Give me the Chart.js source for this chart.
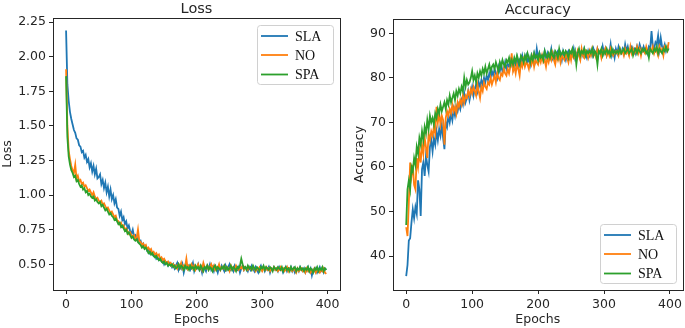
<!DOCTYPE html>
<html>
<head>
<meta charset="utf-8">
<script src="https://cdn.jsdelivr.net/npm/chart.js@4.4.1/dist/chart.umd.min.js"></script>
<style>
  html, body { margin: 0; padding: 0; background: #fff; }
  .panel { position: absolute; top: 0; }
  #lossWrap { left: 0; width: 345px; height: 328px; }
  #accWrap { left: 345px; width: 340px; height: 328px; }
</style>
</head>
<body>
<div class="panel" id="lossWrap"><canvas id="lossChart" width="345" height="328"></canvas></div>
<div class="panel" id="accWrap"><canvas id="accChart" width="340" height="328"></canvas></div>
<script>
// epochs sampled every 2
const epochs = Array.from({ length: 200 }, (_, i) => i * 2);
const seriesNames = ['SLA', 'NO', 'SPA'];
const seriesColors = ['#1f77b4', '#ff7f0e', '#2ca02c'];
const epochTicks = [0, 100, 200, 300, 400];
const lossTicks = [0.50, 0.75, 1.00, 1.25, 1.50, 1.75, 2.00, 2.25];
const accTicks = [40, 50, 60, 70, 80, 90];

const lossSLA = [
  2.19, 1.80, 1.68, 1.60, 1.55, 1.51, 1.47, 1.45, 1.41, 1.40, 1.36, 1.35, 1.31, 1.32, 1.27, 1.29, 1.24, 1.26, 1.20, 1.23,
  1.17, 1.21, 1.15, 1.19, 1.12, 1.13, 1.15, 1.08, 1.11, 1.05, 1.09, 1.02, 1.06, 0.99, 1.04, 0.97, 1.00, 0.94, 0.97, 0.91,
  0.90, 0.85, 0.88, 0.82, 0.84, 0.79, 0.81, 0.76, 0.78, 0.74, 0.72, 0.75, 0.70, 0.71, 0.68, 0.69, 0.66, 0.67, 0.64, 0.65,
  0.62, 0.63, 0.60, 0.61, 0.58, 0.59, 0.57, 0.56, 0.57, 0.54, 0.55, 0.53, 0.54, 0.52, 0.53, 0.50, 0.52, 0.51, 0.49, 0.51,
  0.50, 0.48, 0.50, 0.47, 0.49, 0.51, 0.46, 0.49, 0.47, 0.50, 0.44, 0.48, 0.50, 0.47, 0.49, 0.46, 0.48, 0.51, 0.45, 0.48,
  0.47, 0.50, 0.46, 0.48, 0.44, 0.49, 0.47, 0.45, 0.49, 0.47, 0.50, 0.46, 0.48, 0.45, 0.49, 0.47, 0.44, 0.48, 0.46, 0.49,
  0.47, 0.45, 0.49, 0.46, 0.48, 0.50, 0.46, 0.47, 0.45, 0.49, 0.47, 0.46, 0.48, 0.44, 0.47, 0.49, 0.46, 0.48, 0.47, 0.45,
  0.48, 0.46, 0.49, 0.47, 0.45, 0.48, 0.46, 0.44, 0.47, 0.49, 0.46, 0.48, 0.45, 0.47, 0.46, 0.48, 0.44, 0.47, 0.46, 0.48,
  0.46, 0.47, 0.45, 0.48, 0.46, 0.47, 0.44, 0.46, 0.48, 0.45, 0.47, 0.46, 0.48, 0.45, 0.47, 0.44, 0.46, 0.47, 0.45, 0.48,
  0.46, 0.45, 0.47, 0.44, 0.46, 0.48, 0.45, 0.47, 0.42, 0.46, 0.45, 0.47, 0.44, 0.46, 0.48, 0.45, 0.46, 0.44, 0.47, 0.46
];
const lossNO = [
  1.91, 1.50, 1.32, 1.26, 1.21, 1.18, 1.16, 1.22, 1.12, 1.14, 1.10, 1.11, 1.08, 1.09, 1.06, 1.07, 1.05, 1.03, 1.04, 1.02,
  1.00, 1.02, 0.99, 0.97, 0.98, 0.96, 0.95, 0.96, 0.93, 0.94, 0.92, 0.90, 0.91, 0.89, 0.87, 0.88, 0.86, 0.84, 0.85, 0.82,
  0.81, 0.79, 0.80, 0.77, 0.78, 0.75, 0.76, 0.74, 0.72, 0.73, 0.71, 0.70, 0.71, 0.68, 0.69, 0.75, 0.67, 0.66, 0.64, 0.65,
  0.63, 0.64, 0.61, 0.62, 0.60, 0.61, 0.58, 0.59, 0.57, 0.58, 0.56, 0.57, 0.54, 0.55, 0.53, 0.54, 0.52, 0.51, 0.52, 0.50,
  0.51, 0.49, 0.50, 0.48, 0.49, 0.47, 0.50, 0.48, 0.51, 0.47, 0.49, 0.48, 0.54, 0.47, 0.49, 0.48, 0.50, 0.47, 0.49, 0.46,
  0.48, 0.50, 0.47, 0.49, 0.46, 0.51, 0.48, 0.47, 0.49, 0.46, 0.48, 0.50, 0.47, 0.49, 0.46, 0.48, 0.47, 0.50, 0.46, 0.48,
  0.47, 0.49, 0.46, 0.48, 0.47, 0.45, 0.49, 0.47, 0.48, 0.46, 0.49, 0.47, 0.46, 0.48, 0.47, 0.49, 0.46, 0.48, 0.47, 0.46,
  0.48, 0.47, 0.46, 0.48, 0.47, 0.45, 0.47, 0.46, 0.48, 0.47, 0.45, 0.47, 0.46, 0.48, 0.46, 0.47, 0.45, 0.47, 0.46, 0.48,
  0.46, 0.47, 0.45, 0.46, 0.48, 0.46, 0.47, 0.45, 0.46, 0.48, 0.45, 0.47, 0.46, 0.45, 0.47, 0.46, 0.44, 0.47, 0.45, 0.46,
  0.47, 0.45, 0.46, 0.44, 0.47, 0.45, 0.46, 0.44, 0.46, 0.45, 0.47, 0.44, 0.46, 0.45, 0.44, 0.46, 0.45, 0.47, 0.44, 0.43
];
const lossSPA = [
  1.86, 1.42, 1.28, 1.22, 1.18, 1.16, 1.13, 1.14, 1.10, 1.11, 1.08, 1.06, 1.07, 1.04, 1.05, 1.02, 1.03, 1.00, 1.01, 0.99,
  0.98, 0.99, 0.96, 0.97, 0.95, 0.94, 0.95, 0.92, 0.93, 0.91, 0.89, 0.90, 0.88, 0.86, 0.87, 0.85, 0.84, 0.82, 0.83, 0.81,
  0.79, 0.80, 0.77, 0.78, 0.76, 0.74, 0.75, 0.72, 0.73, 0.71, 0.69, 0.70, 0.68, 0.67, 0.68, 0.66, 0.65, 0.64, 0.62, 0.63,
  0.61, 0.62, 0.60, 0.58, 0.59, 0.57, 0.58, 0.56, 0.55, 0.56, 0.54, 0.53, 0.54, 0.52, 0.51, 0.52, 0.50, 0.51, 0.49, 0.50,
  0.49, 0.50, 0.48, 0.49, 0.47, 0.48, 0.50, 0.47, 0.49, 0.48, 0.46, 0.49, 0.47, 0.48, 0.46, 0.49, 0.47, 0.48, 0.46, 0.49,
  0.47, 0.48, 0.46, 0.49, 0.47, 0.45, 0.48, 0.47, 0.49, 0.46, 0.48, 0.47, 0.45, 0.48, 0.49, 0.46, 0.48, 0.47, 0.46, 0.48,
  0.47, 0.49, 0.46, 0.48, 0.46, 0.47, 0.49, 0.46, 0.48, 0.47, 0.45, 0.48, 0.47, 0.49, 0.54, 0.50, 0.47, 0.48, 0.46, 0.49,
  0.47, 0.48, 0.46, 0.49, 0.47, 0.46, 0.48, 0.47, 0.45, 0.48, 0.47, 0.49, 0.46, 0.48, 0.47, 0.46, 0.48, 0.47, 0.45, 0.48,
  0.47, 0.46, 0.48, 0.47, 0.46, 0.48, 0.45, 0.47, 0.48, 0.46, 0.47, 0.45, 0.48, 0.46, 0.47, 0.48, 0.45, 0.47, 0.46, 0.48,
  0.46, 0.47, 0.45, 0.47, 0.46, 0.48, 0.45, 0.47, 0.46, 0.44, 0.47, 0.46, 0.48, 0.45, 0.47, 0.46, 0.48, 0.45, 0.47, 0.46
];

const accSLA = [
  35.5, 38.0, 43.5, 44.0, 47.5, 50.5, 48.5, 51.0, 49.5, 57.0, 55.0, 49.0, 59.5, 61.0, 58.0, 62.5, 60.5, 59.0, 64.5, 66.0,
  63.5, 66.5, 65.0, 68.0, 66.0, 68.5, 67.0, 69.5, 66.5, 64.0, 70.0, 69.0, 71.5, 70.0, 72.0, 70.5, 73.0, 71.5, 73.5, 72.5,
  74.0, 73.0, 75.0, 74.0, 76.5, 74.5, 75.5, 77.0, 75.0, 76.5, 78.0, 76.0, 77.5, 78.5, 77.0, 79.0, 78.0, 79.5, 78.5, 80.0,
  79.0, 80.5, 79.5, 81.0, 80.0, 81.5, 80.5, 82.0, 81.0, 80.0, 82.5, 81.5, 83.0, 81.5, 82.0, 83.5, 82.0, 83.0, 82.5, 84.0,
  83.0, 82.0, 84.0, 83.0, 84.5, 82.5, 84.0, 83.5, 85.0, 83.5, 84.0, 85.0, 83.5, 84.5, 83.0, 85.0, 84.0, 85.5, 84.0, 86.5,
  84.5, 85.5, 84.0, 85.0, 84.5, 86.0, 84.5, 85.5, 84.0, 85.0, 86.5, 84.5, 85.5, 84.0, 85.5, 86.0, 84.5, 85.5, 84.0, 86.0,
  85.0, 84.0, 85.5, 86.0, 84.5, 85.5, 85.0, 86.5, 84.5, 85.5, 85.0, 86.0, 84.5, 86.0, 85.0, 86.5, 85.5, 84.5, 86.0, 85.0,
  86.0, 85.0, 86.5, 85.5, 85.0, 86.5, 85.5, 86.0, 85.0, 87.0, 85.5, 86.5, 85.0, 86.0, 85.5, 87.5, 85.0, 86.0, 84.5, 86.5,
  85.5, 87.0, 86.0, 85.5, 86.5, 85.5, 87.5, 86.0, 87.0, 85.5, 86.5, 87.0, 86.0, 86.5, 85.5, 87.0, 86.0, 87.5, 86.5, 86.0,
  87.0, 86.0, 86.5, 85.5, 87.0, 86.5, 90.5, 87.0, 86.5, 88.0, 87.5, 89.5, 86.5, 89.0, 87.0, 86.5, 87.5, 86.0, 87.0, 86.5
];
const accNO = [
  46.5, 44.5, 52.0, 61.0, 58.0, 60.5, 56.0, 55.0, 62.0, 60.0, 63.5, 61.0, 65.0, 63.0, 66.5, 64.5, 62.0, 67.5, 66.0, 68.0,
  67.0, 69.0, 67.5, 73.5, 70.0, 72.0, 69.5, 71.5, 70.5, 65.0, 71.0, 72.5, 71.5, 73.0, 72.0, 74.0, 72.5, 73.5, 72.0, 74.5,
  73.5, 75.0, 74.0, 76.0, 74.5, 76.0, 75.5, 77.0, 76.0, 77.5, 76.5, 78.0, 77.0, 76.0, 78.5, 77.0, 75.5, 78.0, 77.0, 79.0,
  78.0, 77.5, 79.0, 78.5, 80.0, 78.5, 79.5, 80.5, 79.0, 81.0, 80.0, 79.5, 81.0, 80.5, 82.0, 81.0, 80.5, 82.0, 81.0, 82.5,
  85.5, 81.5, 82.5, 81.0, 83.0, 82.0, 80.5, 83.5, 82.5, 84.0, 82.5, 83.5, 83.0, 82.0, 84.0, 83.0, 84.5, 82.5, 84.0, 83.5,
  83.0, 84.5, 83.5, 85.0, 83.5, 84.0, 82.5, 84.5, 83.5, 85.0, 84.0, 85.5, 84.0, 83.0, 85.0, 84.0, 85.5, 83.5, 85.0, 84.5,
  84.0, 85.5, 84.5, 83.5, 85.5, 84.0, 86.0, 84.5, 85.0, 84.0, 86.0, 85.0, 84.0, 86.5, 85.0, 84.5, 86.0, 85.5, 84.5, 86.0,
  85.0, 86.5, 85.0, 85.5, 84.5, 86.5, 85.5, 86.0, 84.5, 86.0, 85.5, 86.5, 85.0, 86.0, 85.0, 86.5, 85.5, 85.0, 86.0, 85.5,
  86.0, 85.0, 86.5, 85.5, 86.0, 85.0, 86.5, 85.5, 86.0, 85.0, 87.0, 85.5, 86.5, 85.5, 86.0, 87.0, 85.5, 86.5, 85.0, 86.5,
  86.0, 85.5, 87.0, 86.0, 85.5, 86.5, 86.0, 87.0, 85.5, 86.5, 86.0, 85.0, 87.0, 86.0, 86.5, 85.0, 87.0, 86.5, 86.0, 88.0
];
const accSPA = [
  47.0, 55.0, 57.0, 55.0, 60.0, 59.0, 62.0, 60.5, 64.5, 63.0, 66.5, 65.0, 68.0, 66.0, 69.0, 67.5, 70.5, 68.5, 71.5, 70.0,
  71.0, 69.5, 72.0, 71.0, 73.0, 72.0, 74.0, 72.5, 73.5, 74.5, 73.0, 75.0, 74.0, 76.0, 74.5, 75.5, 76.5, 75.0, 77.0, 76.0,
  77.5, 76.5, 78.0, 77.0, 80.0, 78.0, 79.5, 78.5, 79.0, 80.0, 81.5, 79.5, 80.5, 79.0, 81.0, 80.0, 81.5, 80.5, 82.0, 81.0,
  82.5, 81.0, 82.0, 83.0, 81.5, 82.5, 83.0, 82.0, 83.5, 82.5, 81.5, 83.5, 82.5, 84.0, 83.0, 82.5, 84.0, 83.5, 84.5, 83.0,
  84.0, 83.0, 84.5, 83.5, 85.0, 84.0, 83.0, 85.0, 84.5, 83.5, 85.0, 84.0, 85.5, 84.5, 83.5, 85.0, 84.0, 85.5, 84.5, 85.0,
  84.0, 85.5, 84.5, 85.0, 84.0, 86.0, 85.0, 84.5, 85.5, 84.5, 86.0, 85.0, 84.5, 86.0, 85.5, 84.5, 86.5, 85.0, 85.5, 86.0,
  85.0, 86.0, 85.5, 84.5, 86.0, 85.5, 86.5, 85.0, 86.0, 83.0, 85.5, 86.5, 85.0, 86.0, 85.5, 86.5, 85.0, 86.0, 85.5, 86.0,
  85.5, 86.5, 85.0, 86.0, 85.5, 83.0, 86.0, 85.5, 86.5, 85.0, 86.0, 85.5, 86.5, 85.5, 86.0, 85.0, 86.5, 85.5, 86.0, 85.5,
  86.0, 85.5, 86.5, 85.5, 86.0, 86.5, 85.5, 86.0, 86.5, 85.5, 86.0, 86.5, 85.0, 86.0, 86.5, 85.5, 86.5, 86.0, 85.5, 86.5,
  86.0, 86.5, 85.5, 86.0, 84.5, 86.5, 86.0, 85.5, 86.5, 86.0, 87.0, 85.5, 86.5, 86.0, 85.5, 86.5, 86.0, 87.0, 86.0, 86.5
];

const TICK_FONT = { family: "'DejaVu Sans', sans-serif", size: 12.5 };
const INK = '#262626';

// matplotlib style frame, title and legend drawn on the chart area
function framePlugin(title, legendBox) {
  return {
    id: 'mplFrame',
    afterDraw(chart) {
      const { ctx, chartArea: a } = chart;
      ctx.save();
      ctx.strokeStyle = INK;
      ctx.lineWidth = 1;
      ctx.strokeRect(Math.round(a.left) + 0.5, Math.round(a.top) + 0.5,
        Math.round(a.right - a.left), Math.round(a.bottom - a.top));
      ctx.fillStyle = INK;
      ctx.font = "14.5px 'DejaVu Sans', sans-serif";
      ctx.textAlign = 'center';
      ctx.textBaseline = 'alphabetic';
      ctx.fillText(title, (a.left + a.right) / 2, a.top - 5);

      // legend
      const b = legendBox;
      ctx.beginPath();
      ctx.roundRect(b.x + 0.5, b.y + 0.5, b.w, b.h, 3);
      ctx.fillStyle = 'rgba(255,255,255,0.8)';
      ctx.fill();
      ctx.strokeStyle = '#d0d0d0';
      ctx.stroke();
      ctx.font = "14px 'Liberation Serif', serif";
      ctx.textAlign = 'left';
      ctx.textBaseline = 'middle';
      const rows = [11, 30, 49.5];
      seriesNames.forEach((name, i) => {
        const y = b.y + rows[i];
        ctx.strokeStyle = seriesColors[i];
        ctx.lineWidth = 1.8;
        ctx.beginPath();
        ctx.moveTo(b.x + 4, y);
        ctx.lineTo(b.x + 31, y);
        ctx.stroke();
        ctx.fillStyle = '#111';
        ctx.fillText(name, b.x + 38, y + 1);
      });
      ctx.restore();
    }
  };
}

function axisStyle(titleText, width, tickList, fmt, titlePad) {
  return {
    type: 'linear',
    grid: { display: true, drawOnChartArea: false, drawTicks: true, tickLength: 4, color: INK },
    border: { display: false },
    ticks: { font: TICK_FONT, color: INK, padding: 3, callback: fmt },
    title: { display: true, text: titleText, font: TICK_FONT, color: INK, padding: titlePad },
    afterBuildTicks: (axis) => { axis.ticks = tickList.map(v => ({ value: v })); },
    afterFit: (axis) => { if (width.w) axis.width = width.w; if (width.h) axis.height = width.h; }
  };
}

function buildChart(canvasId, title, values, yRange, yTicks, yFmt, yWidth, yTitlePad, pad, legendBox) {
  const datasets = values.map((vals, i) => ({
    label: seriesNames[i],
    data: epochs.map((e, k) => ({ x: e, y: vals[k] })),
    borderColor: seriesColors[i],
    borderWidth: 1.8,
    pointRadius: 0,
    tension: 0,
    order: 3 - i
  }));
  const xScale = axisStyle('Epochs', { h: 38 }, epochTicks, v => String(v), { top: 0, bottom: 1 });
  xScale.min = -20;
  xScale.max = 419;
  const yScale = axisStyle(title, { w: yWidth }, yTicks, yFmt, { top: yTitlePad, bottom: 0 });
  yScale.min = yRange[0];
  yScale.max = yRange[1];
  return new Chart(document.getElementById(canvasId), {
    type: 'line',
    data: { datasets },
    options: {
      responsive: false,
      animation: false,
      devicePixelRatio: 1,
      layout: { padding: pad },
      plugins: { legend: { display: false }, tooltip: { enabled: false }, title: { display: false } },
      scales: { x: xScale, y: yScale }
    },
    plugins: [framePlugin(title, legendBox)]
  });
}

buildChart('lossChart', 'Loss', [lossSLA, lossNO, lossSPA], [0.314, 2.28], lossTicks,
  v => v.toFixed(2), 53, 0, { top: 18, right: 5, left: 0, bottom: 0 },
  { x: 257, y: 25, w: 76, h: 59 });
buildChart('accChart', 'Accuracy', [accSLA, accNO, accSPA], [32.4, 93.2], accTicks,
  v => String(v), 48, 7, { top: 19, right: 2, left: 0, bottom: 0 },
  { x: 255, y: 224, w: 76, h: 59 });
</script>
</body>
</html>
